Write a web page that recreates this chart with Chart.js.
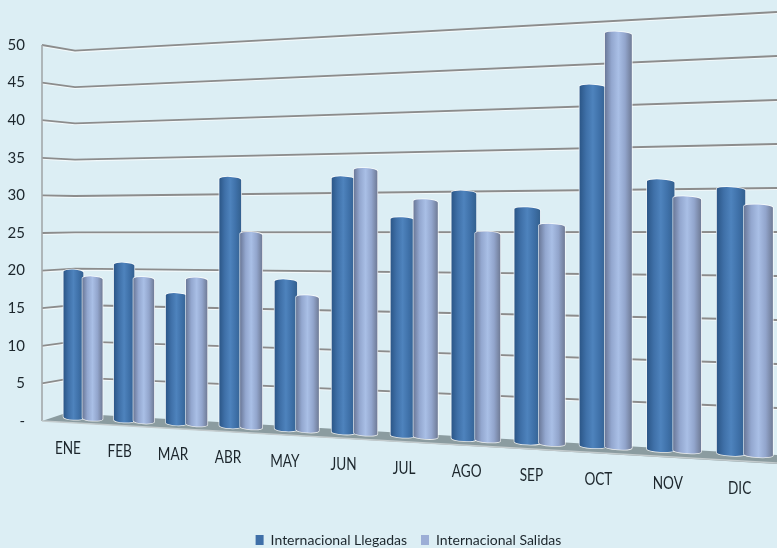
<!DOCTYPE html>
<html>
<head>
<meta charset="utf-8">
<style>
html, body { margin: 0; padding: 0; background: #dceef4; }
#wrap { width: 777px; height: 548px; }
</style>
<script src="https://cdn.jsdelivr.net/npm/chart.js@4"></script>
</head>
<body>
<div id="wrap"><canvas id="chart"></canvas></div>
<script>
const months = ['ENE', 'FEB', 'MAR', 'ABR', 'MAY', 'JUN', 'JUL', 'AGO', 'SEP', 'OCT', 'NOV', 'DIC'];
const llegadas = [19.9, 20.9, 16.9, 32.2, 18.9, 32, 26.8, 30, 27.9, 42.3, 31, 30];
const salidas = [19, 19, 19, 25, 16.9, 33, 29, 25, 25.9, 48.4, 29, 28];
const yTicks = [0, 5, 10, 15, 20, 25, 30, 35, 40, 45, 50];

const FONT = 'Lato, sans-serif';
const TEXT = '#1c262c';

// perspective of the bar plane: flat chart coordinates -> screen
function warp(chart, px, py) {
    const a = chart.chartArea;
    const u = (px - a.left) / (a.right - a.left);
    const v = (py - a.top) / (a.bottom - a.top);
    const k = -0.179;
    const xl = 58, xr = 781;
    const x = (xl + (xr * (1 + k) - xl) * u) / (1 + k * u);
    const f = (x - xl) / (xr - xl);
    const yTop = 53 + (11 - 53) * f;
    const yBot = 416.5 + (456 - 416.5) * f;
    return { x: x, y: yTop + v * (yBot - yTop) };
}

function drawCylinder(ctx, bl, br, tl, tr, stops) {
    const rx = (br.x - bl.x) / 2;
    const cxB = (bl.x + br.x) / 2, cyB = (bl.y + br.y) / 2;
    const cxT = (tl.x + tr.x) / 2, cyT = (tl.y + tr.y) / 2;
    const ry = 2.2 + rx * 0.02;
    const slope = Math.atan2(br.y - bl.y, br.x - bl.x);

    const outline = () => {
        ctx.beginPath();
        ctx.ellipse(cxT, cyT, rx, ry, slope, Math.PI, 2 * Math.PI);
        ctx.ellipse(cxB, cyB, rx, ry, slope, 0, Math.PI);
        ctx.closePath();
    };

    // pale halo around the bar
    outline();
    ctx.strokeStyle = 'rgba(255,255,255,0.8)';
    ctx.lineWidth = 1.5;
    ctx.stroke();

    const g = ctx.createLinearGradient(bl.x, 0, br.x, 0);
    stops.forEach((s, i) => g.addColorStop(i / (stops.length - 1), s));
    outline();
    ctx.fillStyle = g;
    ctx.fill();
}

function drawBars(chart, index, stops) {
    const ctx = chart.ctx;
    ctx.save();
    chart.getDatasetMeta(index).data.forEach(bar => {
        const p = bar.getProps(['x', 'y', 'base', 'width'], true);
        const bl = warp(chart, p.x - p.width / 2, p.base);
        const br = warp(chart, p.x + p.width / 2, p.base);
        const tl = warp(chart, p.x - p.width / 2, p.y);
        const tr = warp(chart, p.x + p.width / 2, p.y);
        drawCylinder(ctx, bl, br, tl, tr, stops);
    });
    ctx.restore();
}

const perspectivePlugin = {
    id: 'perspective',
    afterLayout(chart) {
        // the legend sits right of centre in the reference
        chart.legend.left += 40;
    },
    beforeDatasetsDraw(chart) {
        const ctx = chart.ctx;
        const a = chart.chartArea;
        const yScale = chart.scales.y;
        ctx.save();

        // walls
        yScale.ticks.forEach(t => {
            if (t.value === 0) return;
            const py = yScale.getPixelForValue(t.value);
            const v = (py - a.top) / (a.bottom - a.top);
            const yb = 50.7 + v * 363.3;
            const yr = 12 + v * 440;
            ctx.beginPath();
            ctx.moveTo(a.left, py + 1.2);
            ctx.lineTo(75, yb + 1.2);
            ctx.lineTo(777, yr + 1.2);
            ctx.strokeStyle = 'rgba(255,255,255,0.65)';
            ctx.lineWidth = 1.5;
            ctx.stroke();
            ctx.beginPath();
            ctx.moveTo(a.left, py);
            ctx.lineTo(75, yb);
            ctx.lineTo(777, yr);
            ctx.strokeStyle = '#8c8c8c';
            ctx.lineWidth = 1.8;
            ctx.stroke();
        });
        ctx.beginPath();
        ctx.moveTo(a.left, a.top);
        ctx.lineTo(a.left, a.bottom);
        ctx.strokeStyle = '#a3a8aa';
        ctx.lineWidth = 1.6;
        ctx.stroke();

        // floor
        ctx.beginPath();
        ctx.moveTo(a.left, a.bottom);
        ctx.lineTo(66, 413);
        ctx.lineTo(777, 455);
        ctx.lineTo(777, 464);
        ctx.closePath();
        ctx.fillStyle = '#8b9ca0';
        ctx.fill();
        ctx.beginPath();
        ctx.moveTo(a.left, a.bottom);
        ctx.lineTo(777, 463);
        ctx.strokeStyle = '#c3cbcd';
        ctx.lineWidth = 1.6;
        ctx.stroke();
        ctx.restore();
    },
    beforeDatasetDraw(chart, args) {
        // Salidas has to sit over Llegadas where they touch
        if (args.index === 0) {
            drawBars(chart, 0, ['#2b5687', '#3f70a8', '#4e83bd', '#3f71a9', '#33608f']);
            drawBars(chart, 1, ['#6a7898', '#93a7cf', '#a9bfe6', '#92a5cc', '#6f7b96']);
        }
        return false;
    },
    afterDatasetsDraw(chart) {
        // month labels follow the receding floor
        const ctx = chart.ctx;
        const xScale = chart.scales.x;
        const a = chart.chartArea;
        ctx.save();
        ctx.font = '16px ' + FONT;
        ctx.fillStyle = TEXT;
        ctx.textAlign = 'center';
        ctx.textBaseline = 'middle';
        months.forEach((m, i) => {
            const c = warp(chart, xScale.getPixelForValue(i), a.bottom);
            const k = (c.x - 82) / 663;
            ctx.save();
            ctx.translate(c.x - 15 + 10 * k, c.y + 30 + 4 * k);
            ctx.scale(0.85, 1.1);
            ctx.fillText(m, 0, 0);
            ctx.restore();
        });
        ctx.restore();
    }
};

new Chart(document.getElementById('chart'), {
    type: 'bar',
    data: {
        labels: months,
        datasets: [
            { label: 'Internacional Llegadas', data: llegadas, backgroundColor: '#3f6fa8' },
            { label: 'Internacional Salidas', data: salidas, backgroundColor: '#9caed6' }
        ]
    },
    plugins: [perspectivePlugin],
    options: {
        responsive: true,
        maintainAspectRatio: false,
        animation: false,
        categoryPercentage: 0.76,
        barPercentage: 1.05,
        layout: { padding: { top: 45, left: 0, right: 0, bottom: -9 } },
        scales: {
            x: {
                grid: { display: false },
                border: { display: false },
                ticks: { display: false },
                afterFit(scale) { scale.height = 98; }
            },
            y: {
                min: 0,
                max: 50,
                grid: { display: false, drawTicks: false },
                border: { display: false },
                afterBuildTicks(scale) { scale.ticks = yTicks.map(v => ({ value: v })); },
                afterFit(scale) { scale.width = 42; },
                ticks: {
                    padding: 17,
                    color: TEXT,
                    font: { family: FONT, size: 15 },
                    callback: v => (v === 0 ? '-' : v)
                }
            }
        },
        plugins: {
            legend: {
                position: 'bottom',
                labels: {
                    boxWidth: 8,
                    boxHeight: 10,
                    padding: 14,
                    color: TEXT,
                    font: { family: FONT, size: 14 }
                }
            },
            tooltip: { enabled: false }
        }
    }
});
</script>
</body>
</html>
